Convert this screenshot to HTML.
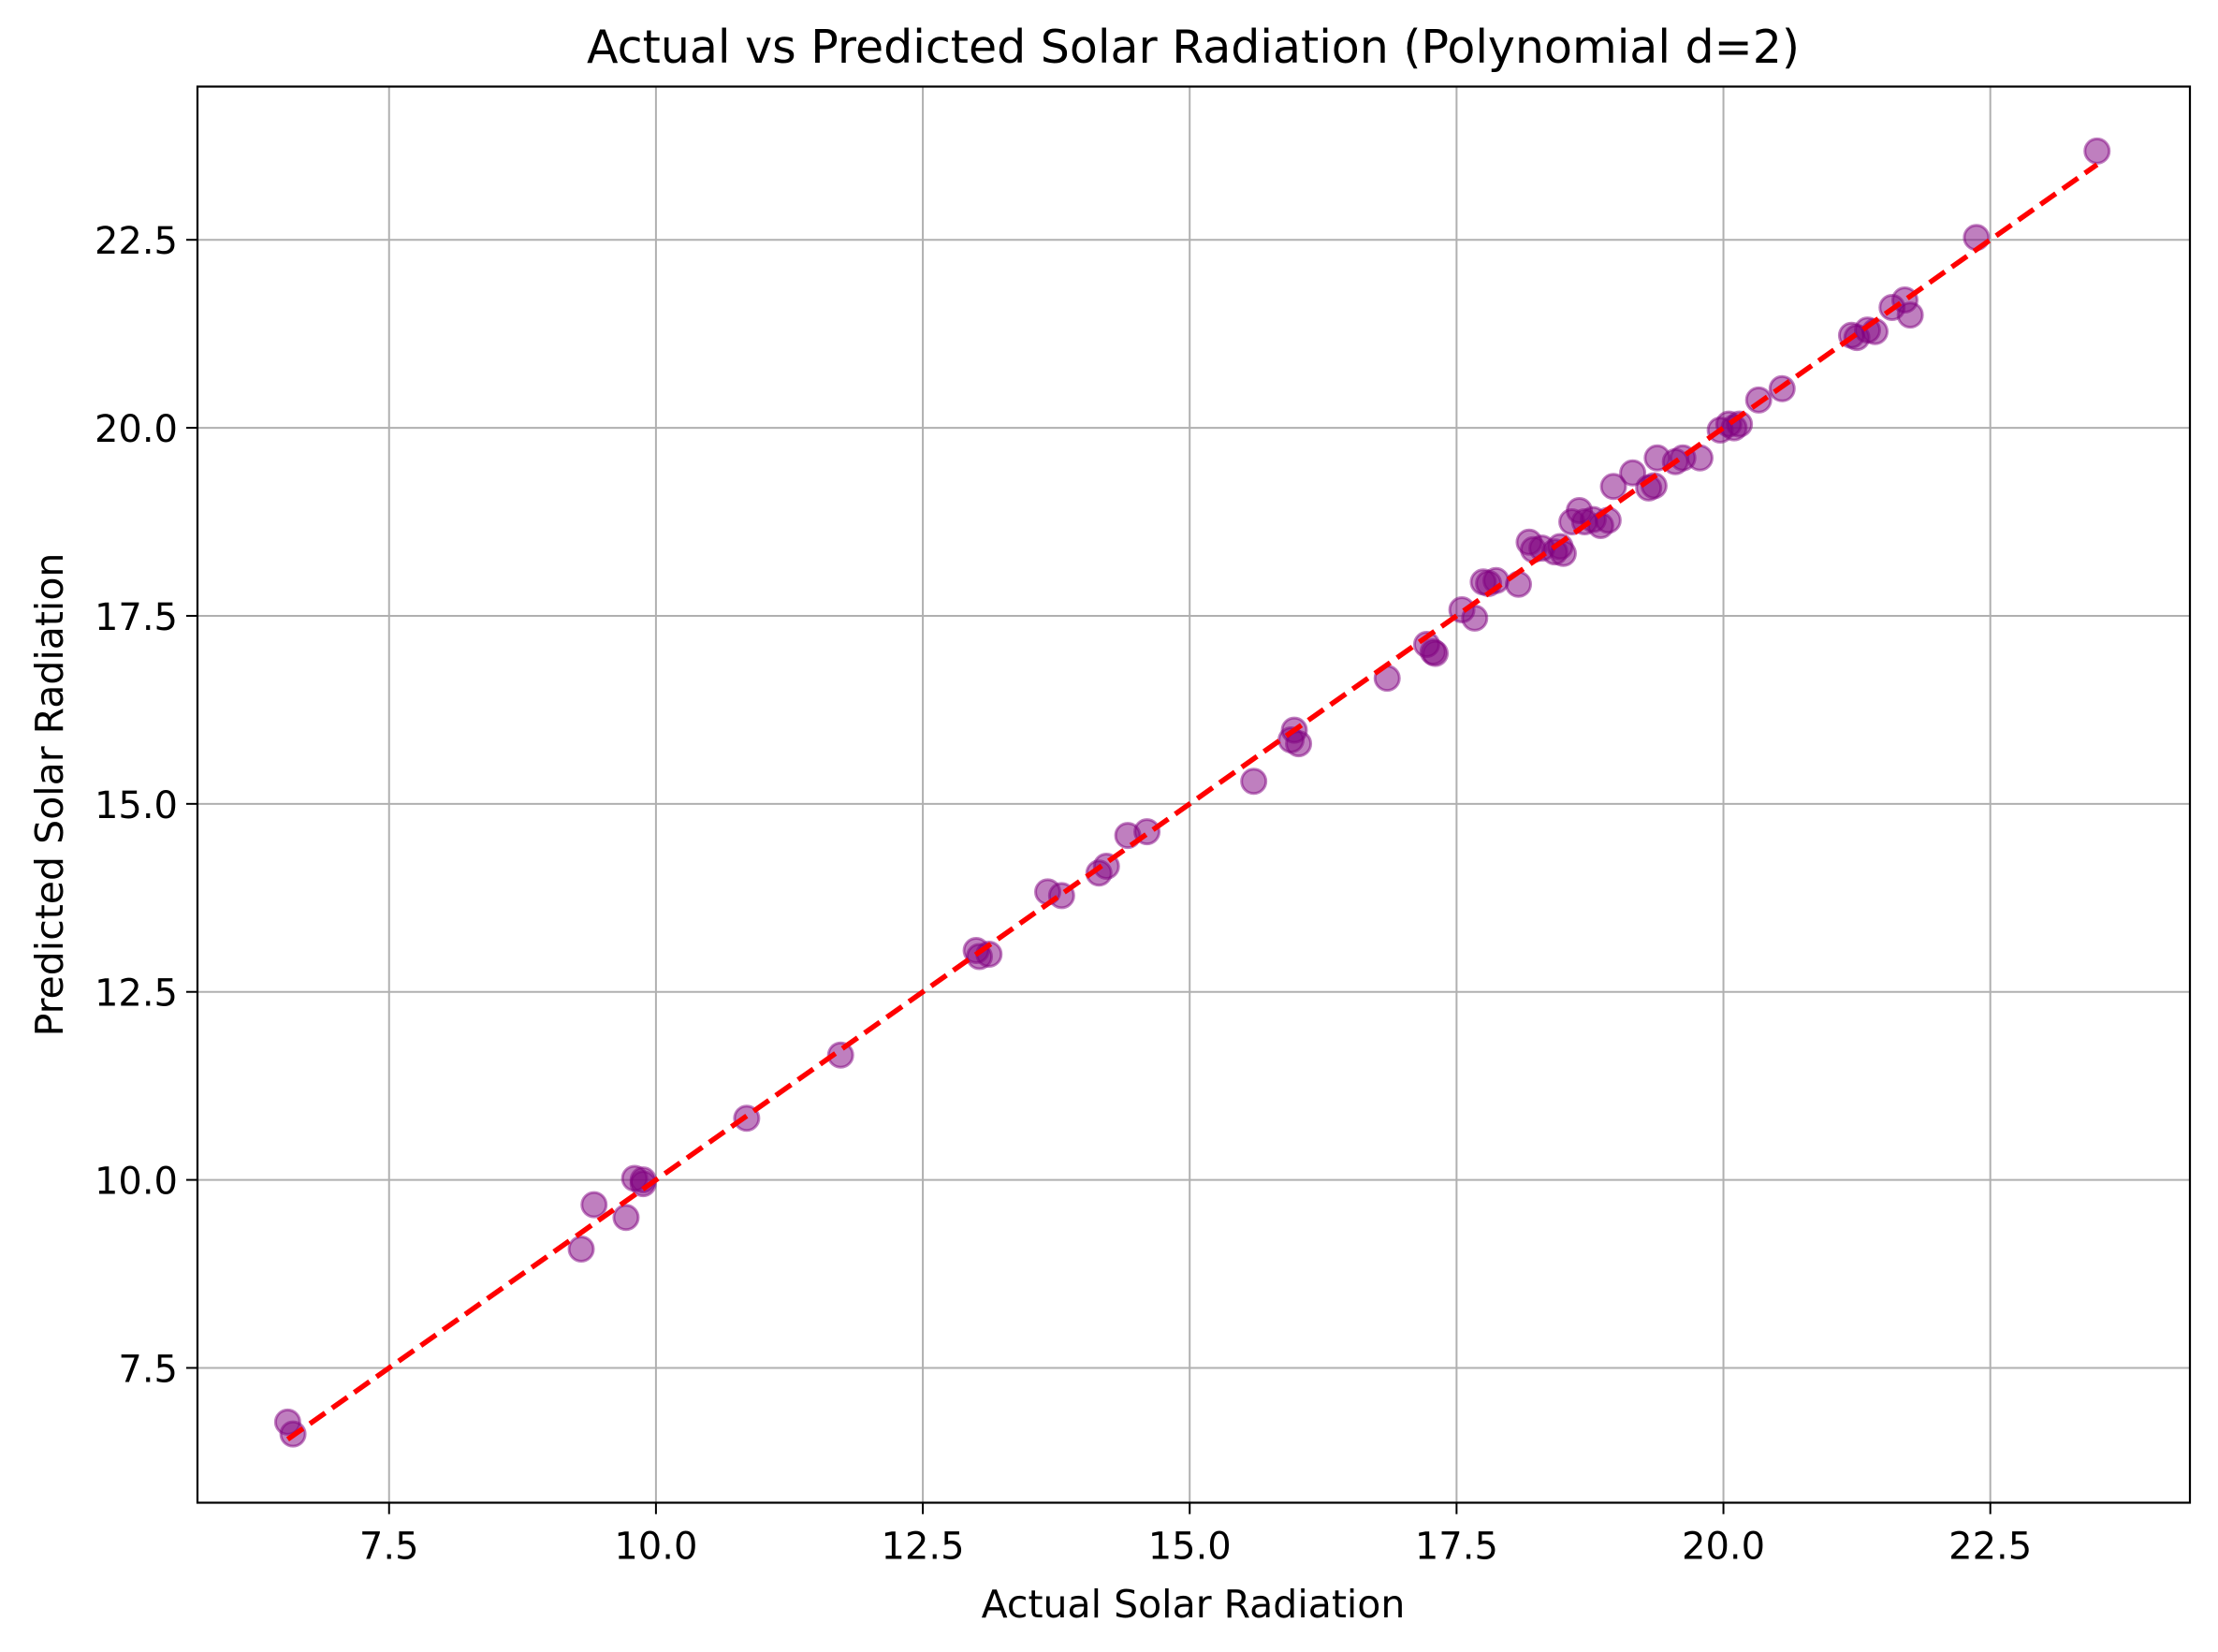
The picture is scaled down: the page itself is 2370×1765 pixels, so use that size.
<!DOCTYPE html>
<html><head><meta charset="utf-8"><style>
html,body{margin:0;padding:0;background:#fff;}
svg{display:block;font-family:"DejaVu Sans","Liberation Sans",sans-serif;}
</style></head><body>
<svg id="chart" width="2370" height="1765" viewBox="0 0 2370 1765" xmlns="http://www.w3.org/2000/svg">
<rect x="0" y="0" width="2370" height="1765" fill="#fff"/>
<g id="grid"></g>
<g id="marks"></g>
<g id="fit"></g>
<rect x="211" y="92.5" width="2129" height="1513" fill="none" stroke="#000" stroke-width="2.2"/>
<g id="ticks"></g>
<text x="1275" y="67" font-size="49" text-anchor="middle">Actual vs Predicted Solar Radiation (Polynomial d=2)</text>
<text x="1275" y="1728" font-size="41" text-anchor="middle">Actual Solar Radiation</text>
<text x="0" y="0" font-size="41" text-anchor="middle" transform="translate(67,849) rotate(-90)">Predicted Solar Radiation</text>
</svg>
<script>
const xTicks = [7.5, 10.0, 12.5, 15.0, 17.5, 20.0, 22.5];
const yTicks = [7.5, 10.0, 12.5, 15.0, 17.5, 20.0, 22.5];
const actual = [6.55,6.6,9.3,9.42,9.72,9.8,9.88,9.88,10.85,11.73,13.0,13.03,13.12,13.67,13.8,14.15,14.22,14.42,14.6,15.6,15.95,15.98,16.02,16.85,17.22,17.28,17.3,17.55,17.67,17.75,17.8,17.87,18.08,18.18,18.22,18.3,18.42,18.47,18.5,18.58,18.65,18.7,18.78,18.85,18.92,18.97,19.15,19.3,19.35,19.38,19.55,19.62,19.78,19.97,20.05,20.1,20.15,20.33,20.55,21.2,21.25,21.35,21.42,21.58,21.7,21.75,22.37,23.5];
const predicted = [6.78,6.62,9.08,9.67,9.5,10.02,10.0,9.95,10.82,11.66,13.05,12.97,13.0,13.83,13.78,14.08,14.17,14.58,14.63,15.3,15.85,15.98,15.8,16.67,17.12,17.02,17.0,17.58,17.47,17.95,17.93,17.97,17.92,18.48,18.38,18.4,18.35,18.42,18.33,18.75,18.9,18.75,18.78,18.7,18.77,19.22,19.4,19.2,19.23,19.6,19.55,19.6,19.6,19.97,20.05,20.0,20.05,20.37,20.52,21.23,21.2,21.3,21.28,21.6,21.7,21.5,22.53,23.68];

const NS = "http://www.w3.org/2000/svg";
const X0 = 211, X1 = 2340, Y0 = 1605.7, Y1 = 92.3;
const xMin = 5.705, xMax = 24.37, yMin = 5.705, yMax = 24.54;
function sx(v){ return X0 + (v - xMin) / (xMax - xMin) * (X1 - X0); }
function sy(v){ return Y0 - (v - yMin) / (yMax - yMin) * (Y0 - Y1); }
function mk(tag, attrs, parent){ const e = document.createElementNS(NS, tag); for (const k in attrs) e.setAttribute(k, attrs[k]); parent.appendChild(e); return e; }

const grid = document.getElementById('grid');
const ticks = document.getElementById('ticks');
xTicks.forEach(t => {
  const x = sx(t);
  const g = mk('line', {x1:x, x2:x, y1:Y1, y2:Y0, stroke:'#b0b0b0', 'stroke-width':2}, grid);
  
  
  const tk = mk('line', {x1:x, x2:x, y1:Y0, y2:Y0+12, stroke:'#000', 'stroke-width':2}, ticks);
  
  
  const lb = mk('text', {x:x, y:Y0+60, 'font-size':40, 'text-anchor':'middle'}, ticks);
  lb.textContent = t.toFixed(1);
  
  
});
yTicks.forEach(t => {
  const y = sy(t);
  const g = mk('line', {x1:X0, x2:X1, y1:y, y2:y, stroke:'#b0b0b0', 'stroke-width':2}, grid);
  
  
  const tk = mk('line', {x1:X0-12, x2:X0, y1:y, y2:y, stroke:'#000', 'stroke-width':2}, ticks);
  
  
  const lb = mk('text', {x:X0-21, y:y+15, 'font-size':40, 'text-anchor':'end'}, ticks);
  lb.textContent = t.toFixed(1);
  
  
});
const marks = document.getElementById('marks');
actual.forEach((a, i) => {
  const c = mk('circle', {cx:sx(a), cy:sy(predicted[i]), r:13, fill:'rgba(128,0,128,0.5)', stroke:'rgba(128,0,128,0.5)', 'stroke-width':3}, marks);
  
  
});
const lo = Math.min(...actual), hi = Math.max(...actual);
const fit = document.getElementById('fit');
const ln = mk('line', {x1:sx(lo), y1:sy(lo), x2:sx(hi), y2:sy(hi), stroke:'#ff0000', 'stroke-width':5.5, 'stroke-dasharray':'20 9'}, fit);


</script>
</body></html>
